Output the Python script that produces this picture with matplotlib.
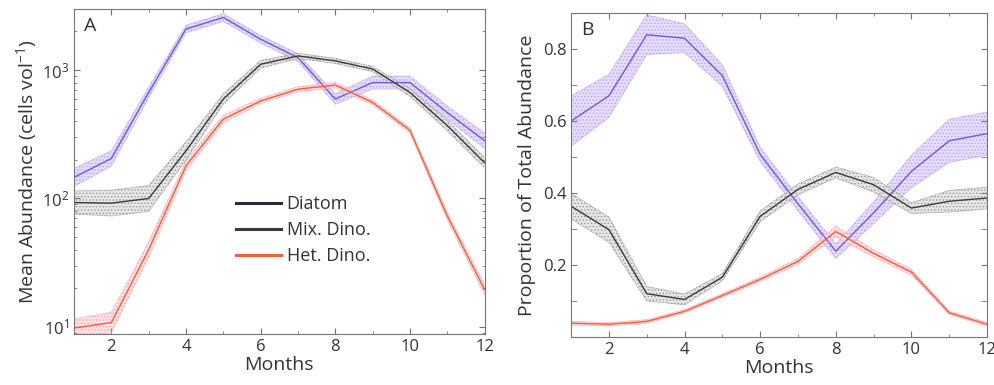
import numpy as np
import matplotlib
matplotlib.use("Agg")
import matplotlib.pyplot as plt
from matplotlib.lines import Line2D
from matplotlib.ticker import MultipleLocator, LogLocator, NullFormatter

plt.rcParams['font.family'] = ['Open Sans', 'DejaVu Sans']
plt.rcParams['mathtext.fontset'] = 'custom'
plt.rcParams['mathtext.rm'] = 'Open Sans'
plt.rcParams['mathtext.it'] = 'Open Sans'
plt.rcParams['hatch.linewidth'] = 0.6

months = np.arange(1, 13)

# Panel A: mean abundance (cells vol^-1) and band half-width in decades
diatom_abund = [146, 205, 670, 2090, 2570, 1740, 1250, 595, 800, 800, 467, 282]
diatom_abund_err = [0.07, 0.06, 0.04, 0.03, 0.03, 0.03, 0.03, 0.04, 0.05, 0.05, 0.05, 0.06]
mix_abund = [93, 92, 100, 235, 595, 1110, 1290, 1180, 1020, 670, 370, 190]
mix_abund_err = [0.09, 0.1, 0.1, 0.07, 0.04, 0.03, 0.02, 0.02, 0.02, 0.03, 0.04, 0.04]
het_abund = [9.8, 10.8, 40, 180, 415, 575, 710, 765, 560, 340, 73, 19.5]
het_abund_err = [0.07, 0.08, 0.06, 0.04, 0.03, 0.02, 0.02, 0.02, 0.02, 0.02, 0.03, 0.04]

# Panel B: proportion of total abundance and band half-width
diatom_prop = [0.60, 0.67, 0.84, 0.83, 0.726, 0.507, 0.37, 0.238, 0.345, 0.46, 0.545, 0.565]
diatom_prop_err = [0.07, 0.06, 0.055, 0.04, 0.03, 0.02, 0.02, 0.02, 0.03, 0.045, 0.06, 0.06]
mix_prop = [0.363, 0.298, 0.12, 0.104, 0.166, 0.335, 0.41, 0.457, 0.423, 0.358, 0.377, 0.386]
mix_prop_err = [0.035, 0.035, 0.02, 0.015, 0.01, 0.015, 0.015, 0.015, 0.02, 0.015, 0.03, 0.03]
het_prop = [0.038, 0.035, 0.043, 0.071, 0.115, 0.16, 0.21, 0.293, 0.232, 0.18, 0.067, 0.035]
het_prop_err = [0.005, 0.005, 0.005, 0.005, 0.005, 0.006, 0.008, 0.015, 0.01, 0.008, 0.005, 0.005]

labels = ['Diatom', 'Mix. Dino.', 'Het. Dino.']
line_colors = ['#6c5cd8', '#3a3a3a', '#f2603c']
band_colors = ['#e6dcfb', '#e6e6e6', '#fde2e6']
hatch_colors = ['#bba4f0', '#9a9a9a', '#f6aab4']
legend_colors = ['#2b2b3c', '#3a3a3a', '#f2603c']
text_color = '#333333'
spine_color = '#777777'


def draw_band(ax, x, lo, hi, mid, i):
    ax.fill_between(x, lo, hi, facecolor=band_colors[i], edgecolor=hatch_colors[i],
                    hatch='.....', linewidth=0)
    ax.plot(x, lo, color=hatch_colors[i], lw=0.6, ls=(0, (2, 1)))
    ax.plot(x, hi, color=hatch_colors[i], lw=0.6, ls=(0, (2, 1)))
    ax.plot(x, mid, color=line_colors[i], lw=1.0)


def style_axes(ax):
    for s in ax.spines.values():
        s.set_color(spine_color)
        s.set_linewidth(0.8)
    ax.tick_params(which='both', direction='in', top=True, right=True,
                   colors=spine_color, labelcolor=text_color, labelsize=12)
    ax.tick_params(which='major', length=4)
    ax.tick_params(which='minor', length=2.5)
    ax.set_xlim(1, 12)
    ax.set_xticks([2, 4, 6, 8, 10, 12])
    ax.xaxis.set_minor_locator(MultipleLocator(1))
    ax.set_xlabel('Months', fontsize=14, color=text_color, labelpad=1)


fig = plt.figure(figsize=(9.95, 3.85), dpi=100)
axA = fig.add_axes([0.0744, 0.1325, 0.4126, 0.8445])
axB = fig.add_axes([0.574, 0.125, 0.418, 0.841])

abund = [diatom_abund, mix_abund, het_abund]
abund_err = [diatom_abund_err, mix_abund_err, het_abund_err]
for i in range(3):
    v = np.array(abund[i])
    e = np.array(abund_err[i])
    draw_band(axA, months, v / 10 ** e, v * 10 ** e, v, i)

axA.set_yscale('log')
axA.set_ylim(8.8, 3000)
axA.yaxis.set_major_locator(LogLocator(base=10, numticks=10))
axA.yaxis.set_minor_locator(LogLocator(base=10, subs=np.arange(2, 10), numticks=10))
axA.yaxis.set_minor_formatter(NullFormatter())
style_axes(axA)
axA.set_ylabel('Mean Abundance (cells vol$^{-1}$)', fontsize=14, color=text_color, labelpad=2)
axA.text(0.025, 0.975, 'A', transform=axA.transAxes, fontsize=14, color=text_color,
         va='top', ha='left')

handles = [Line2D([], [], color=legend_colors[i], lw=2.2) for i in range(3)]
axA.legend(handles, labels, loc='center left', bbox_to_anchor=(0.355, 0.32), frameon=False,
           fontsize=13, handlelength=2.5, handletextpad=0.3, labelspacing=0.45,
           labelcolor=text_color)

prop = [diatom_prop, mix_prop, het_prop]
prop_err = [diatom_prop_err, mix_prop_err, het_prop_err]
for i in range(3):
    v = np.array(prop[i])
    e = np.array(prop_err[i])
    draw_band(axB, months, v - e, v + e, v, i)

axB.set_ylim(0, 0.9)
axB.set_yticks([0.2, 0.4, 0.6, 0.8])
axB.yaxis.set_minor_locator(MultipleLocator(0.1))
style_axes(axB)
axB.tick_params(which='minor', axis='y', length=4)
axB.set_ylabel('Proportion of Total Abundance', fontsize=14, color=text_color, labelpad=5)
axB.text(0.025, 0.975, 'B', transform=axB.transAxes, fontsize=14, color=text_color,
         va='top', ha='left')

fig.savefig('out.png', dpi=100)
